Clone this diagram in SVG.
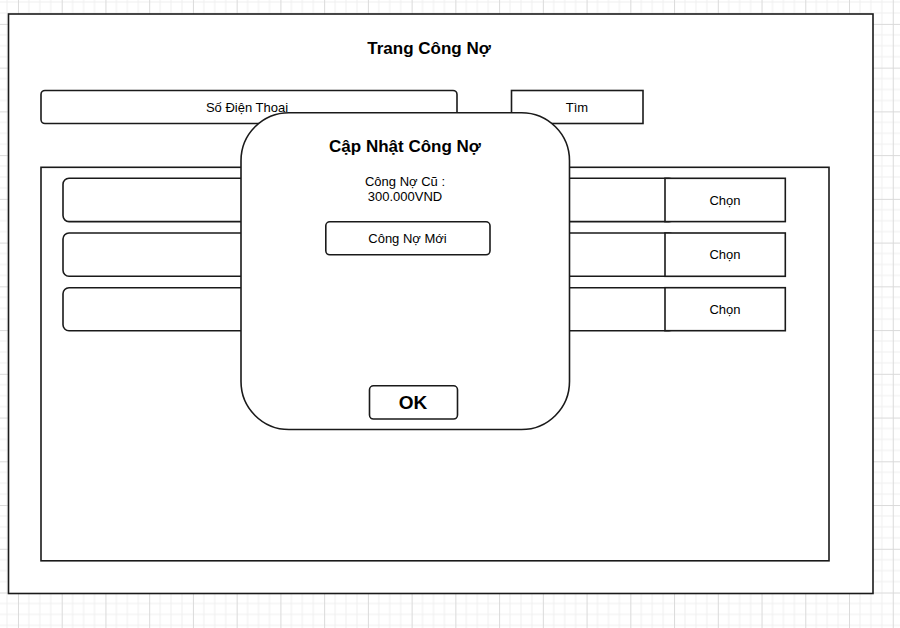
<svg xmlns="http://www.w3.org/2000/svg" width="900" height="628" viewBox="0 0 900 628">
<defs>
<pattern id="grid" patternUnits="userSpaceOnUse" x="17.96" y="23.9" width="43.74" height="43.74">
<path d="M10.935 0V43.74M21.87 0V43.74M32.805 0V43.74M0 10.935H43.74M0 21.87H43.74M0 32.805H43.74" fill="none" stroke="#f0f0f0" stroke-width="1"/>
<path d="M0.5 0V43.74M0 0.5H43.74" fill="none" stroke="#dadada" stroke-width="1"/>
</pattern>
<style>
.b{fill:#fff;stroke:#1a1a1a;stroke-width:1.6}
.t{font-family:"Liberation Sans",Arial,sans-serif;font-size:13px;fill:#000;text-anchor:middle}
.h{font-family:"Liberation Sans",Arial,sans-serif;font-size:17px;font-weight:bold;fill:#000;text-anchor:middle}
</style>
</defs>
<rect width="900" height="628" fill="#fff"/>
<rect width="900" height="628" fill="url(#grid)"/>
<g id="page">
<rect class="b" x="8.5" y="14" width="864.5" height="579.5"/>
<text class="h" x="429" y="54">Trang Công Nợ</text>
</g>
<g id="search">
<rect class="b" x="41" y="90.5" width="416" height="33" rx="4"/>
<text class="t" x="247" y="112">Số Điện Thoai</text>
</g>
<g id="find">
<rect class="b" x="511.5" y="90.5" width="131.5" height="33"/>
<text class="t" x="577" y="112">Tìm</text>
</g>
<g id="list">
<rect class="b" x="41" y="167.3" width="788" height="393.5"/>
</g>
<g id="row1">
<rect class="b" x="63" y="178.3" width="612" height="43.3" rx="6"/>
<rect class="b" x="665" y="178.3" width="120.3" height="43.3"/>
<text class="t" x="725" y="205">Chọn</text>
</g>
<g id="row2">
<rect class="b" x="63" y="233" width="612" height="43.3" rx="6"/>
<rect class="b" x="665" y="233" width="120.3" height="43.3"/>
<text class="t" x="725" y="259">Chọn</text>
</g>
<g id="row3">
<rect class="b" x="63" y="287.7" width="612" height="43" rx="6"/>
<rect class="b" x="665" y="287.7" width="120.3" height="43"/>
<text class="t" x="725" y="314">Chọn</text>
</g>
<g id="dialog">
<rect class="b" x="241" y="112.7" width="328.5" height="316.8" rx="48"/>
<text class="h" x="405" y="152">Cập Nhật Công Nợ</text>
<text class="t" x="405" y="186">Công Nợ Cũ :</text>
<text class="t" x="405" y="201">300.000VND</text>
</g>
<g id="newdebt">
<rect class="b" x="325.8" y="221.8" width="164.2" height="33" rx="4"/>
<text class="t" x="407.5" y="243">Công Nợ Mới</text>
</g>
<g id="ok">
<rect class="b" x="369.5" y="385.8" width="88" height="33.2" rx="4"/>
<text class="h" x="413" y="408.5" style="font-size:19px">OK</text>
</g>
<g id="connectors"/>
</svg>
